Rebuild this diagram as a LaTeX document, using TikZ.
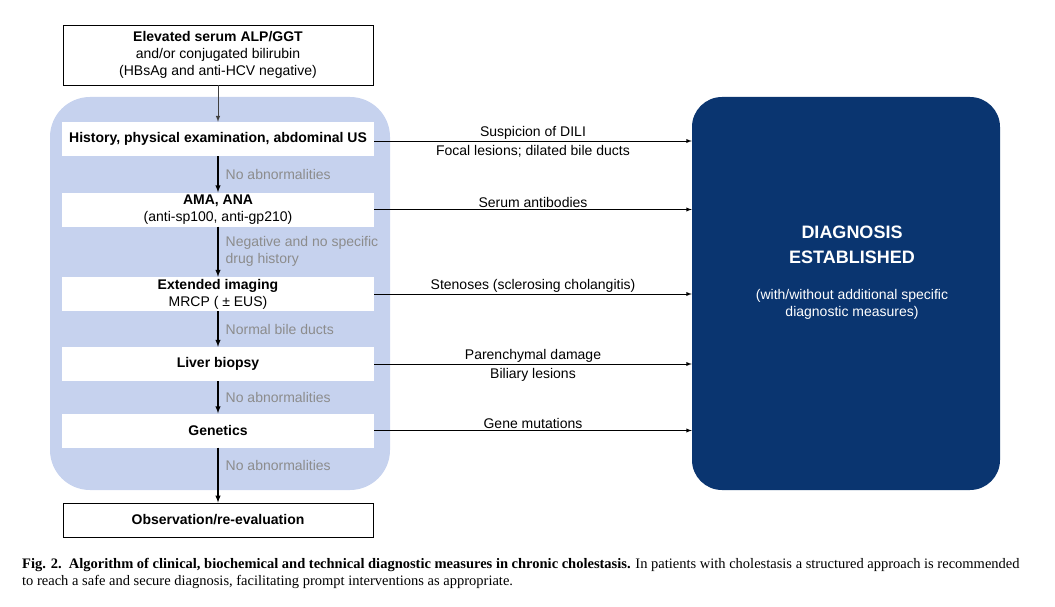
\documentclass[tikz,border=0pt]{standalone}
\usepackage{fontspec}
\setmainfont{Liberation Sans}
\newfontfamily\capfont{Liberation Serif}
\usepackage{xcolor}
\usetikzlibrary{positioning}
\definecolor{panelblue}{HTML}{C6D2EE}
\definecolor{resultblue}{HTML}{0A3570}
\definecolor{notegray}{HTML}{8C8C8C}

\begin{document}
\begin{tikzpicture}[x=1pt, y=-1pt,
      font=\fontsize{14}{17}\selectfont,
      type-frame/.style={rectangle, draw=black, line width=0.8pt, fill=white, minimum width=310pt, minimum height=34pt, align=center, inner sep=0pt},
      type-step/.style={rectangle, fill=white, minimum width=312pt, minimum height=34pt, align=center, inner sep=0pt},
      type-panel/.style={rectangle, rounded corners=40pt, fill=panelblue, minimum width=340pt, minimum height=393pt},
      type-result/.style={rectangle, rounded corners=30pt, fill=resultblue, minimum width=308pt, minimum height=393pt},
      type-note/.style={text=notegray, align=left, anchor=west, inner sep=0pt, xshift=7pt},
      type-above/.style={above, inner sep=1.5pt},
      type-below/.style={below, inner sep=4pt},
      type-down/.style={-latex, line width=1.4pt},
      type-across/.style={-latex, line width=0.9pt}
    ]
      \useasboundingbox (0,0) rectangle (1055,607);
      \node[type-panel] (panel) at (220,293.5) {};
      \node[type-result] (result) at (846,293.5) {};
      \node[text=white, align=center, font=\fontsize{18}{25}\selectfont\bfseries] (result-title) at (852,245) {DIAGNOSIS\\ESTABLISHED};
      \node[text=white, align=center, below=18pt of result-title] (result-note) {(with/without additional specific\\diagnostic measures)};

      \node[type-frame, minimum height=60pt] (start) at (218,55) {\textbf{Elevated serum ALP/GGT}\\and/or conjugated bilirubin\\(HBsAg and anti-HCV negative)};
      \node[type-step] (history) at (218,139) {\textbf{History, physical examination, abdominal US}};
      \node[type-step] (antibody) at (218,209.5) {\textbf{AMA, ANA}\\(anti-sp100, anti-gp210)};
      \node[type-step] (imaging) at (218,294) {\textbf{Extended imaging}\\MRCP ( ± EUS)};
      \node[type-step] (biopsy) at (218,364) {\textbf{Liver biopsy}};
      \node[type-step] (genetics) at (218,430.5) {\textbf{Genetics}};
      \node[type-frame] (observe) at (218,520) {\textbf{Observation/re-evaluation}};

      \draw[type-down, line width=1pt, black!75] (start) -- (history);
      \draw[type-down] (history) -- node[type-note] {No abnormalities} (antibody);
      \draw[type-down] (antibody) -- node[type-note] {Negative and no specific\\drug history} (imaging);
      \draw[type-down] (imaging) -- node[type-note] {Normal bile ducts} (biopsy);
      \draw[type-down] (biopsy) -- node[type-note] {No abnormalities} (genetics);
      \draw[type-down] (genetics) -- node[type-note, pos=0.32] {No abnormalities} (observe);

      \draw[type-across] ([yshift=-2pt]history.east) -- node[type-above] {Suspicion of DILI} node[type-below] {Focal lesions; dilated bile ducts} ([yshift=-2pt]history.east -| result.west);
      \draw[type-across] (antibody.east) -- node[type-above] {Serum antibodies} (antibody.east -| result.west);
      \draw[type-across] (imaging.east) -- node[type-above] {Stenoses (sclerosing cholangitis)} (imaging.east -| result.west);
      \draw[type-across] (biopsy.east) -- node[type-above] {Parenchymal damage} node[type-below] {Biliary lesions} (biopsy.east -| result.west);
      \draw[type-across] (genetics.east) -- node[type-above] {Gene mutations} (genetics.east -| result.west);

      \node[anchor=north west, align=left, inner sep=0pt, font=\capfont\fontsize{14.5}{17}\selectfont] (caption) at (22,558) {\textbf{Fig. 2.\ \ Algorithm of clinical, biochemical and technical diagnostic measures in chronic cholestasis.} In patients with cholestasis a structured approach is recommended\\to reach a safe and secure diagnosis, facilitating prompt interventions as appropriate.};
    \end{tikzpicture}
\end{document}
